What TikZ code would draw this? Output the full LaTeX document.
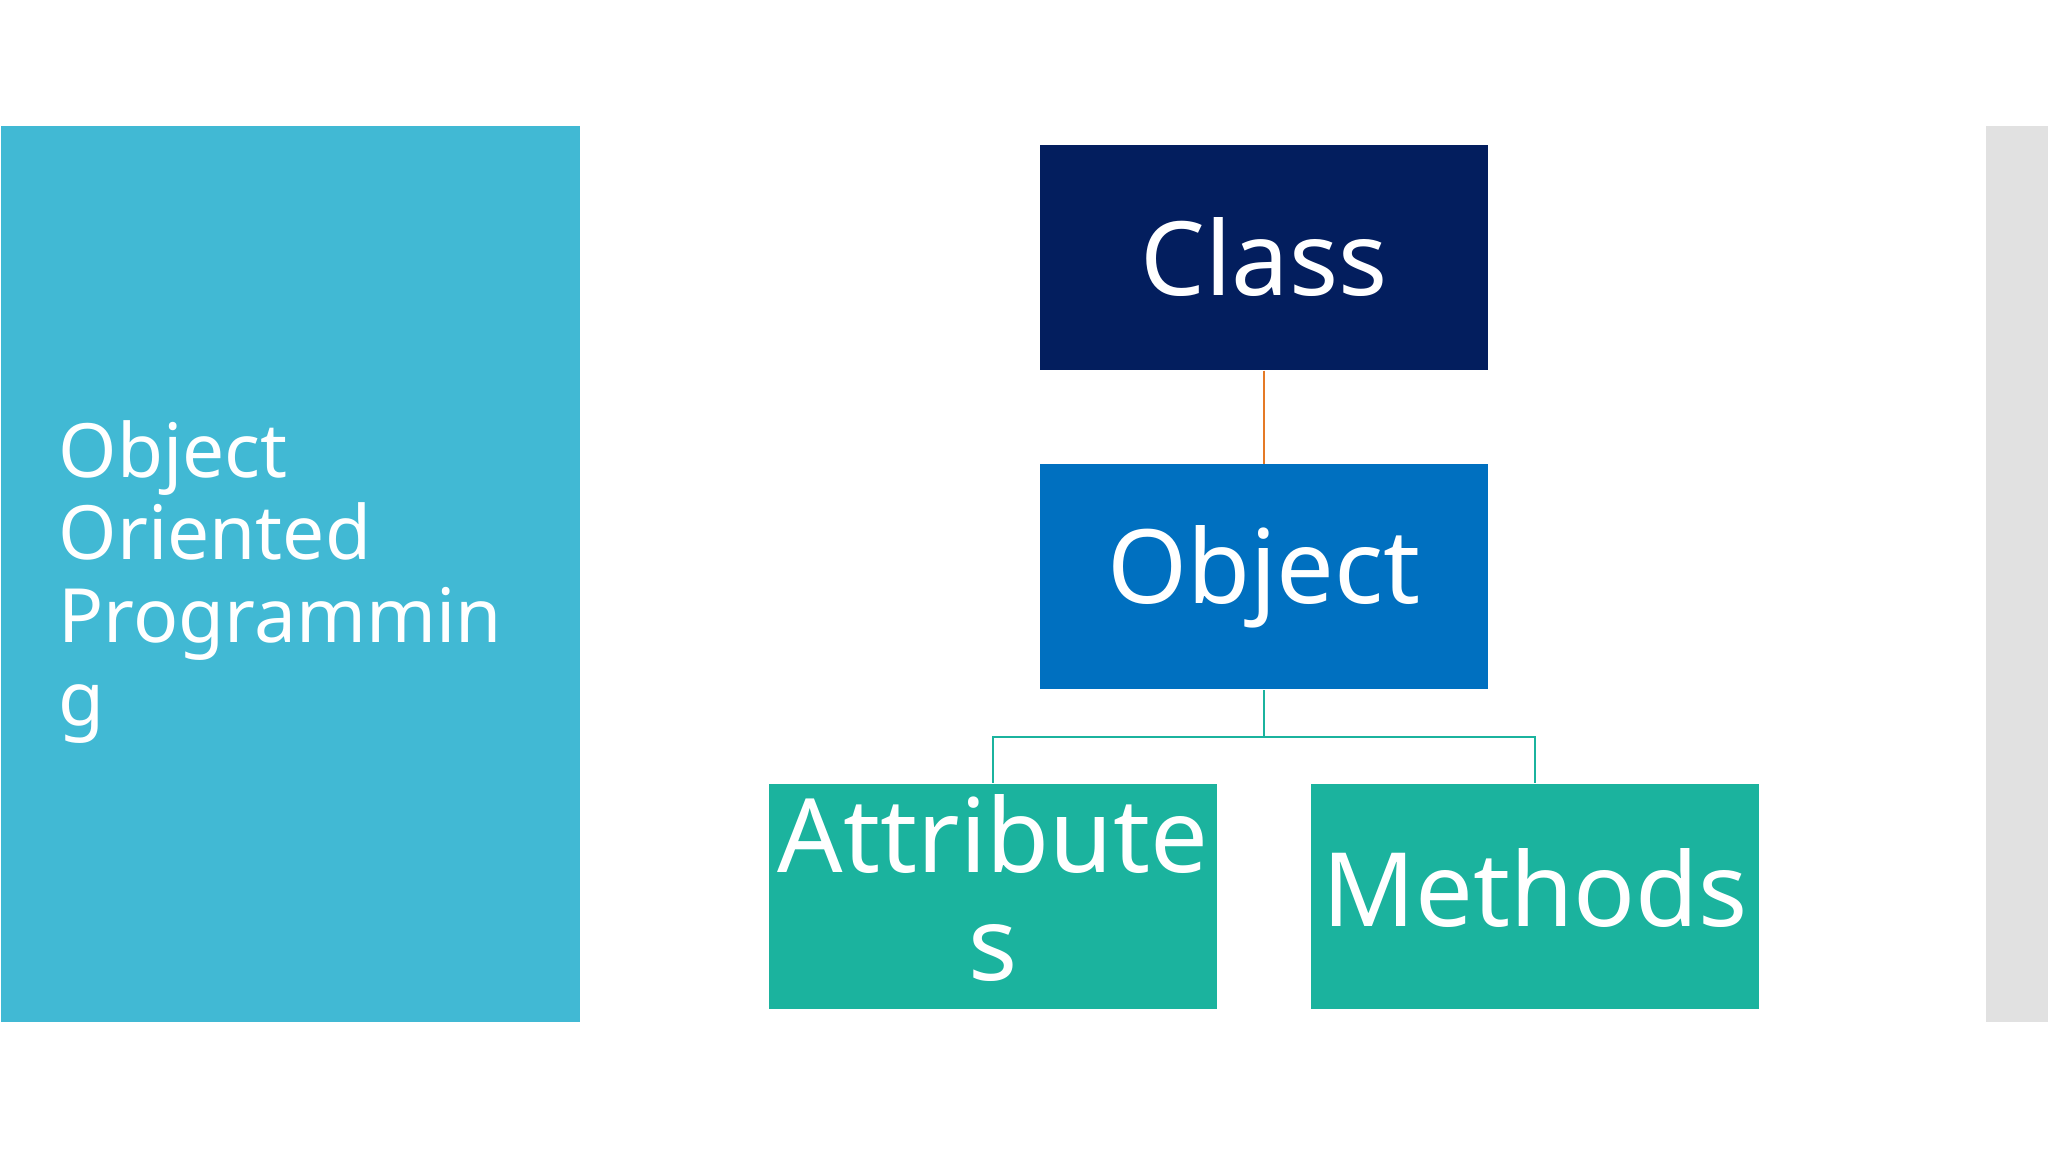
\documentclass[tikz,border=0pt]{standalone}
\usepackage{fontspec}
\setmainfont{Noto Sans}
\usetikzlibrary{positioning}

\definecolor{sidecyan}{HTML}{41B9D4}
\definecolor{classnavy}{HTML}{031E5E}
\definecolor{objblue}{HTML}{0070C0}
\definecolor{leafteal}{HTML}{1BB39E}
\definecolor{linkorange}{HTML}{E57A26}
\definecolor{sidegray}{HTML}{E1E1E1}

\begin{document}
\begin{tikzpicture}[
    node distance=0.93cm,
    box/.style={rectangle, minimum width=4.48cm, minimum height=2.25cm, inner sep=0pt, text centered, text=white, font=\fontsize{29.2}{30.7}\selectfont},
    classbox/.style={box, fill=classnavy},
    objbox/.style={box, fill=objblue},
    leaf/.style={box, fill=leafteal, align=center, text depth=5pt},
    link/.style={line width=0.55pt}
]
    \useasboundingbox [fill=white] (0,0) rectangle (20.48,11.52);
    % side panels
    \node (side) [rectangle, fill=sidecyan, inner sep=0pt, minimum width=5.79cm, minimum height=8.96cm, anchor=south west] at (0,1.29) {};
    \node (edge) [rectangle, fill=sidegray, inner sep=0pt, minimum width=0.63cm, minimum height=8.96cm, anchor=south west] at (19.85,1.29) {};
    \node (title) [anchor=west, inner sep=0pt, align=left, text=white, font=\fontsize{21.3}{23.6}\selectfont] at (0.58,5.70) {Object\\Oriented\\Programmin\\g};

    % hierarchy
    \node (class) [classbox] at (12.64,8.945) {Class};
    \node (object) [objbox, below=of class] {Object};
    \node (attr) [leaf, below=of object, xshift=-2.71cm] {Attribute\\s};
    \node (meth) [leaf, below=of object, xshift=2.71cm] {Methods};

    \draw [link, linkorange] (class) -- (object);
    \draw [link, leafteal] (object.south) -- ++(0,-0.47) -| (attr.north);
    \draw [link, leafteal] (object.south) -- ++(0,-0.47) -| (meth.north);
\end{tikzpicture}
\end{document}
